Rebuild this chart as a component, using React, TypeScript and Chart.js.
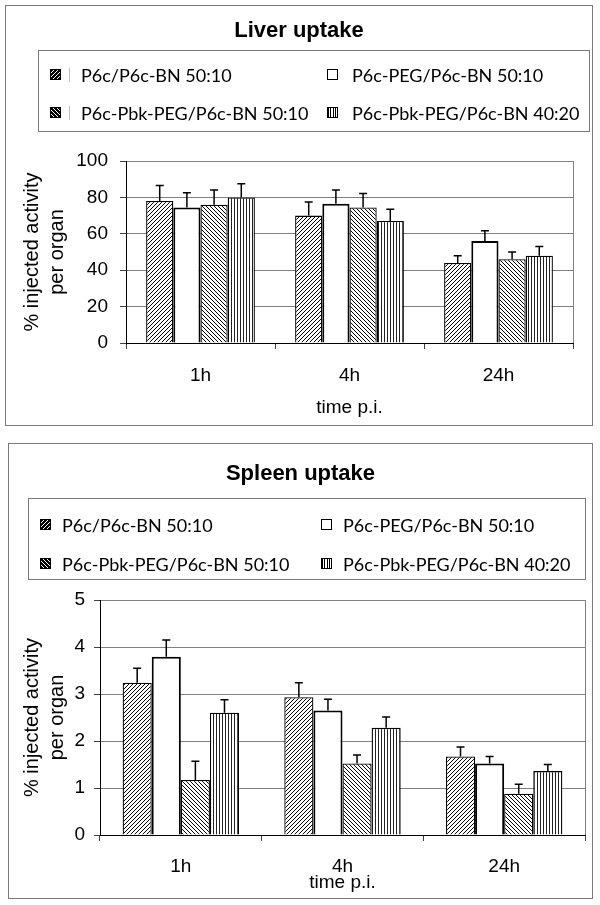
import React, { useEffect, useRef } from "react";
import { Chart, registerables } from "chart.js";

Chart.register(...registerables);

// ---------- data ----------
const timePoints = ["1h", "4h", "24h"];
const seriesNames = [
  "P6c/P6c-BN 50:10",
  "P6c-PEG/P6c-BN 50:10",
  "P6c-Pbk-PEG/P6c-BN 50:10",
  "P6c-Pbk-PEG/P6c-BN 40:20",
];

const liverP6c = [78, 70, 44];
const liverP6cErr = [8.5, 7.5, 4];
const liverPeg = [74.5, 76.5, 56];
const liverPegErr = [8, 7.5, 5.7];
const liverPbk5010 = [76, 74.5, 46];
const liverPbk5010Err = [8, 7.7, 4];
const liverPbk4020 = [80, 67, 48];
const liverPbk4020Err = [7.5, 6.5, 5];
const liverYTicks = [0, 20, 40, 60, 80, 100];

const spleenP6c = [3.24, 2.93, 1.67];
const spleenP6cErr = [0.31, 0.31, 0.2];
const spleenPeg = [3.79, 2.65, 1.52];
const spleenPegErr = [0.36, 0.24, 0.15];
const spleenPbk5010 = [1.17, 1.52, 0.88];
const spleenPbk5010Err = [0.4, 0.18, 0.2];
const spleenPbk4020 = [2.6, 2.28, 1.36];
const spleenPbk4020Err = [0.28, 0.23, 0.14];
const spleenYTicks = [0, 1, 2, 3, 4, 5];

const patternKinds = ["fwd", "white", "back", "vert"];

// ---------- helpers ----------
function makePattern(kind: string): any {
  if (kind === "white") return "#ffffff";
  const c = document.createElement("canvas");
  const s = kind === "vert" ? 3 : 4;
  c.width = s;
  c.height = s;
  const g = c.getContext("2d")!;
  g.fillStyle = "#fff";
  g.fillRect(0, 0, s, s);
  g.strokeStyle = "#000";
  g.lineWidth = 1;
  if (kind === "vert") {
    g.fillStyle = "#222";
    g.fillRect(0, 0, 1, s);
  } else if (kind === "fwd") {
    g.beginPath();
    g.moveTo(-1, s + 1);
    g.lineTo(s + 1, -1);
    g.moveTo(-1, 1);
    g.lineTo(1, -1);
    g.moveTo(s - 1, s + 1);
    g.lineTo(s + 1, s - 1);
    g.stroke();
  } else {
    g.beginPath();
    g.moveTo(-1, -1);
    g.lineTo(s + 1, s + 1);
    g.moveTo(s - 1, -1);
    g.lineTo(s + 1, 1);
    g.moveTo(-1, s - 1);
    g.lineTo(1, s + 1);
    g.stroke();
  }
  return g.createPattern(c, "repeat");
}

const swatchBg: Record<string, string> = {
  fwd: "repeating-linear-gradient(-45deg, #000 0px, #000 1.6px, #fff 1.6px, #fff 2.8px)",
  white: "#fff",
  back: "repeating-linear-gradient(45deg, #000 0px, #000 1.6px, #fff 1.6px, #fff 2.8px)",
  vert: "repeating-linear-gradient(90deg, #000 0px, #000 1px, #fff 1px, #fff 2.4px)",
};

type Cfg = {
  title: string;
  box: { left: number; top: number; width: number; height: number };
  titleY: number;
  legend: { left: number; top: number; width: number; height: number; rows: number[]; cols: number[]; textOff: number[]; tan: boolean };
  values: number[][];
  errors: number[][];
  yTicks: number[];
  padTop: number;
  padRight: number;
  yAxisW: number;
  xAxisH: number;
  xTickPad: number;
  xTitlePad: number;
  yTitlePad: number;
  yTickPad: number;
  catPct: number;
};

const liverCfg: Cfg = {
  title: "Liver uptake",
  box: { left: 5, top: 5, width: 588, height: 421 },
  titleY: 24,
  legend: { left: 32, top: 44, width: 552, height: 82, rows: [24, 62], cols: [11, 288], textOff: [31, 25], tan: true },
  values: [liverP6c, liverPeg, liverPbk5010, liverPbk4020],
  errors: [liverP6cErr, liverPegErr, liverPbk5010Err, liverPbk4020Err],
  yTicks: liverYTicks,
  padTop: 155,
  padRight: 19,
  yAxisW: 120,
  xAxisH: 82,
  xTickPad: 15,
  xTitlePad: 5.6,
  yTitlePad: 14,
  yTickPad: 12,
  catPct: 0.73,
};

const spleenCfg: Cfg = {
  title: "Spleen uptake",
  box: { left: 8, top: 443, width: 585, height: 456 },
  titleY: 29,
  legend: { left: 19, top: 54, width: 558, height: 82, rows: [26, 65], cols: [11, 292], textOff: [22, 22], tan: false },
  values: [spleenP6c, spleenPeg, spleenPbk5010, spleenPbk4020],
  errors: [spleenP6cErr, spleenPegErr, spleenPbk5010Err, spleenPbk4020Err],
  yTicks: spleenYTicks,
  padTop: 156,
  padRight: 7,
  yAxisW: 91,
  xAxisH: 63,
  xTickPad: 14,
  xTitlePad: 3.6,
  yTitlePad: 11,
  yTickPad: 9,
  catPct: 0.72,
};

const AXIS_FONT = "'Liberation Sans', Arial, sans-serif";
const LEGEND_FONT = "Lato, 'Open Sans', sans-serif";

function Panel({ cfg }: { cfg: Cfg }) {
  const ref = useRef<HTMLCanvasElement>(null);
  const cw = cfg.box.width - 2;
  const ch = cfg.box.height - 2;

  useEffect(() => {
    const canvas = ref.current!;
    const errs = cfg.errors;
    const errorBars = {
      id: "errorBars",
      afterDatasetsDraw(chart: any) {
        const ctx = chart.ctx;
        const y = chart.scales.y;
        chart.data.datasets.forEach((ds: any, di: number) => {
          const meta = chart.getDatasetMeta(di);
          meta.data.forEach((bar: any, i: number) => {
            const top = y.getPixelForValue(ds.data[i] + errs[di][i]);
            ctx.save();
            ctx.strokeStyle = "#000";
            ctx.lineWidth = 1.5;
            ctx.beginPath();
            ctx.moveTo(bar.x, bar.y);
            ctx.lineTo(bar.x, top);
            ctx.moveTo(bar.x - 4, top);
            ctx.lineTo(bar.x + 4, top);
            ctx.stroke();
            ctx.restore();
          });
        });
      },
    };
    const rightBorder = {
      id: "rightBorder",
      beforeDatasetsDraw(chart: any) {
        const { ctx, chartArea } = chart;
        ctx.save();
        ctx.strokeStyle = "#808080";
        ctx.lineWidth = 1;
        ctx.beginPath();
        ctx.moveTo(Math.round(chartArea.right) + 0.5, chartArea.top);
        ctx.lineTo(Math.round(chartArea.right) + 0.5, chartArea.bottom);
        ctx.stroke();
        ctx.restore();
      },
    };

    const chart = new Chart(canvas, {
      type: "bar",
      data: {
        labels: timePoints,
        datasets: cfg.values.map((vals, i) => ({
          label: seriesNames[i],
          data: vals,
          backgroundColor: makePattern(patternKinds[i]),
          borderColor: "#000",
          borderWidth: patternKinds[i] === "white" ? 2 : 1.3,
          barPercentage: 1,
          categoryPercentage: cfg.catPct,
        })),
      },
      options: {
        responsive: false,
        animation: false,
        devicePixelRatio: 1,
        layout: { padding: { left: 0, top: cfg.padTop, right: cfg.padRight, bottom: 0 } },
        plugins: {
          legend: { display: false },
          title: { display: false },
          tooltip: { enabled: false },
        },
        scales: {
          x: {
            offset: true,
            grid: {
              display: true,
              drawOnChartArea: false,
              drawTicks: true,
              tickLength: 6,
              offset: true,
              color: "#404040",
            },
            border: { display: true, color: "#000", width: 1 },
            ticks: {
              font: { family: AXIS_FONT, size: 19 },
              color: "#000",
              padding: cfg.xTickPad,
              maxRotation: 0,
            },
            title: {
              display: true,
              text: "time p.i.",
              font: { family: AXIS_FONT, size: 19 },
              color: "#000",
              padding: { top: 0, bottom: cfg.xTitlePad },
            },
            afterFit: (s: any) => {
              s.height = cfg.xAxisH;
            },
          },
          y: {
            min: cfg.yTicks[0],
            max: cfg.yTicks[cfg.yTicks.length - 1],
            afterBuildTicks: (s: any) => {
              s.ticks = cfg.yTicks.map((v) => ({ value: v }));
            },
            grid: { color: "#808080", tickColor: "#404040", tickLength: 6, lineWidth: 1 },
            border: { display: true, color: "#000", width: 1 },
            ticks: {
              font: { family: AXIS_FONT, size: 19 },
              color: "#000",
              padding: cfg.yTickPad,
            },
            title: {
              display: true,
              text: ["% injected activity", "per organ"],
              font: { family: AXIS_FONT, size: 20, lineHeight: 1.25 },
              color: "#000",
              padding: { top: cfg.yTitlePad, bottom: 0 },
            },
            afterFit: (s: any) => {
              s.width = cfg.yAxisW;
            },
          },
        },
      } as any,
      plugins: [rightBorder, errorBars],
    });
    return () => chart.destroy();
  }, [cfg]);

  const lg = cfg.legend;
  return (
    <div
      style={{
        position: "absolute",
        left: cfg.box.left,
        top: cfg.box.top,
        width: cfg.box.width,
        height: cfg.box.height,
        boxSizing: "border-box",
        border: "1px solid #7a7a7a",
        background: "#fff",
      }}
    >
      <canvas ref={ref} width={cw} height={ch} style={{ position: "absolute", left: 0, top: 0, width: cw, height: ch }} />
      <div
        style={{
          position: "absolute",
          left: 0,
          width: cw,
          top: cfg.titleY - 14,
          height: 28,
          lineHeight: "28px",
          textAlign: "center",
          fontFamily: AXIS_FONT,
          fontWeight: "bold",
          fontSize: 22,
          color: "#000",
        }}
      >
        {cfg.title}
      </div>
      <div
        style={{
          position: "absolute",
          left: lg.left,
          top: lg.top,
          width: lg.width,
          height: lg.height,
          boxSizing: "border-box",
          border: "1px solid #7a7a7a",
          background: "#fff",
        }}
      >
        {seriesNames.map((name, i) => {
          const row = lg.rows[Math.floor(i / 2)];
          const col = lg.cols[i % 2];
          return (
            <React.Fragment key={name}>
              <div
                style={{
                  position: "absolute",
                  left: col,
                  top: row - 6,
                  width: 11,
                  height: 11,
                  boxSizing: "border-box",
                  border: "1.5px solid #000",
                  background: swatchBg[patternKinds[i]],
                }}
              />
              {lg.tan && i % 2 === 0 ? (
                <div style={{ position: "absolute", left: col + 19, top: row - 7, width: 1, height: 14, background: "#d9b98f" }} />
              ) : null}
              <div
                style={{
                  position: "absolute",
                  left: col + lg.textOff[i % 2],
                  top: row - 12,
                  height: 24,
                  lineHeight: "24px",
                  whiteSpace: "nowrap",
                  fontFamily: LEGEND_FONT,
                  fontSize: 18,
                  color: "#000",
                }}
              >
                {name}
              </div>
            </React.Fragment>
          );
        })}
      </div>
    </div>
  );
}

export default function App() {
  return (
    <div style={{ position: "absolute", left: 0, top: 0, width: 600, height: 905, background: "#fff" }}>
      <Panel cfg={liverCfg} />
      <Panel cfg={spleenCfg} />
    </div>
  );
}
